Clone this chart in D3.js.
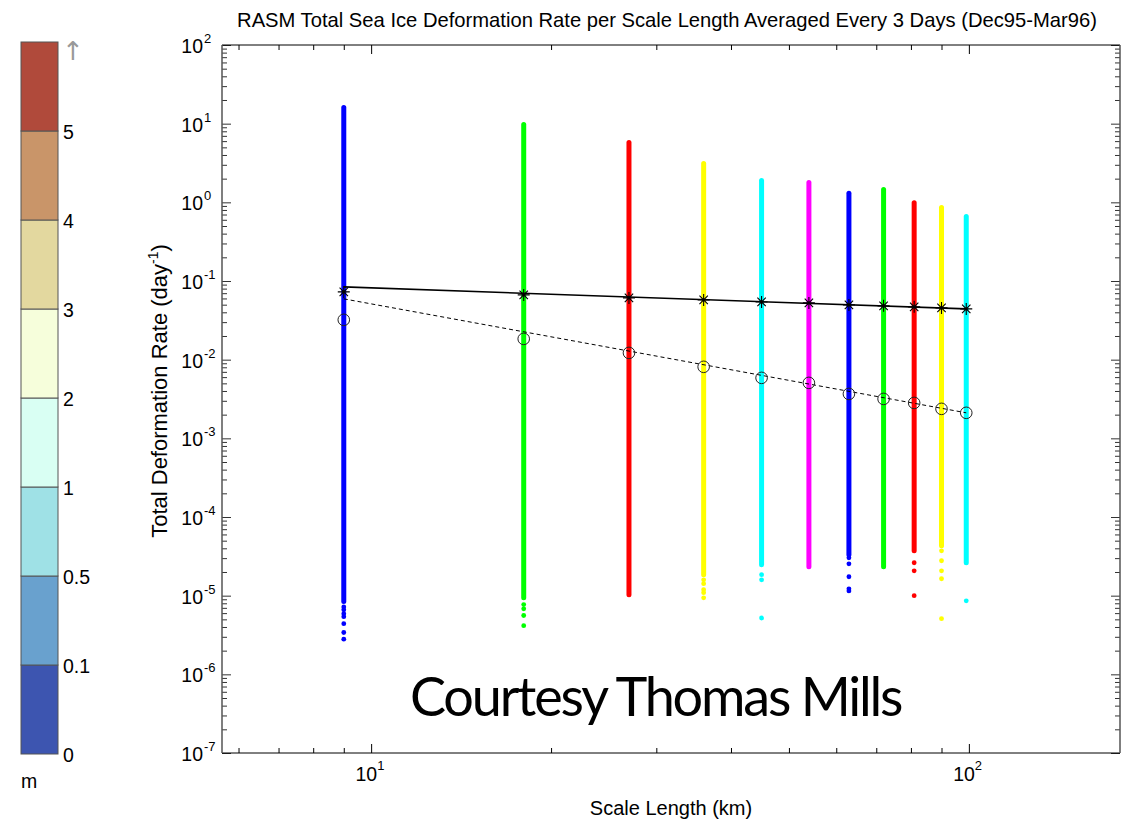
<!DOCTYPE html>
<html lang="en">
<head>
<meta charset="UTF-8">
<title>RASM Total Sea Ice Deformation Rate</title>
<script src="https://d3js.org/d3.v7.min.js"></script>
<style>
    body { margin: 0; background: #fff; }
    svg { font-family: "Liberation Sans", Arial, sans-serif; }
</style>
</head>
<body>
<svg width="1135" height="822"></svg>
<script>
// scale lengths (km), one scatter column each
var scaleKm = [9, 18, 27, 36, 45, 54, 63, 72, 81, 90, 99];
var colColors = ["#0000ff", "#00ff00", "#ff0000", "#ffff00", "#00ffff", "#ff00ff",
                 "#0000ff", "#00ff00", "#ff0000", "#ffff00", "#00ffff"];
// highest point and lowest point of the dense part of each column (day^-1)
var colMax = [16.1, 9.77, 5.77, 3.12, 1.90, 1.79, 1.30, 1.46, 0.99, 0.86, 0.66];
var colDenseMin = [8.4e-6, 9.4e-6, 1.03e-5, 1.85e-5, 2.47e-5, 2.33e-5, 3.31e-5, 2.33e-5, 3.72e-5, 4.3e-5, 2.62e-5];
// isolated low points under each column
var colLowDots = [
    [7.2e-6, 6.6e-6, 5.9e-6, 5.4e-6, 4.4e-6, 3.4e-6, 2.8e-6],
    [7.7e-6, 6.8e-6, 5.6e-6, 4.15e-6],
    [],
    [1.59e-5, 1.42e-5, 1.19e-5, 1.09e-5, 9.4e-6],
    [1.85e-5, 1.59e-5, 5.2e-6],
    [],
    [3.03e-5, 2.54e-5, 1.74e-5, 1.22e-5, 1.15e-5],
    [],
    [2.62e-5, 2.07e-5, 1.0e-5],
    [3.72e-5, 2.78e-5, 2.07e-5, 1.64e-5, 5.1e-6],
    [8.6e-6]
];
// asterisk and circle markers
var starRate = [0.0727, 0.0666, 0.0610, 0.0575, 0.0542, 0.0527, 0.0497, 0.0483, 0.0469, 0.0455, 0.0442];
var circleRate = [0.0321, 0.01837, 0.01219, 0.00811, 0.00587, 0.00507, 0.00367, 0.00317, 0.00282, 0.00237, 0.00211];
// fitted power-law lines, end points
var fitSolid = [[9, 0.0841], [99, 0.0442]];
var fitDashed = [[9, 0.0593], [99, 0.00211]];

var yTickExp = [2, 1, 0, -1, -2, -3, -4, -5, -6, -7];
var xTickExp = [1, 2];

// colour bar (ice thickness, m), bottom to top
var cbLabels = ["0", "0.1", "0.5", "1", "2", "3", "4", "5"];
var cbColors = ["#3d55b0", "#69a1ce", "#9fe1e6", "#d9fff3", "#f6fedb", "#e3d89f", "#c99569", "#b04a3b"];

var svg = d3.select("svg");
var pLeft = 222, pRight = 1120, pTop = 45, pBottom = 753;

var x = d3.scaleLog().domain([5.63, 179]).range([pLeft, pRight]);
var y = d3.scaleLog().domain([1e-7, 100]).range([pBottom, pTop]);

svg.append("rect").attr("width", 1135).attr("height", 822).attr("fill", "#fff");

// ---- ticks
var xMinor = [6, 7, 8, 9, 20, 30, 40, 50, 60, 70, 80, 90], yMinor = [];
for (var e = -7; e < 2; e++) {
    for (var k = 2; k <= 9; k++) yMinor.push(k * Math.pow(10, e));
}
var xMajor = xTickExp.map(function(e) { return Math.pow(10, e); });
var yMajor = yTickExp.map(function(e) { return Math.pow(10, e); });

function addAxis(axis, tr, color) {
    var g = svg.append("g").attr("transform", tr).call(axis);
    g.select(".domain").remove();
    g.selectAll("line").attr("stroke", color);
    g.selectAll("text").remove();
    return g;
}
addAxis(d3.axisBottom(x).tickValues(xMajor).tickSize(-9), "translate(0," + pBottom + ")", "#000");
addAxis(d3.axisBottom(x).tickValues(xMinor).tickSize(-5), "translate(0," + pBottom + ")", "#000");
addAxis(d3.axisTop(x).tickValues(xMajor).tickSize(-9), "translate(0," + pTop + ")", "#000");
addAxis(d3.axisTop(x).tickValues(xMinor).tickSize(-5), "translate(0," + pTop + ")", "#000");
addAxis(d3.axisLeft(y).tickValues(yMajor).tickSize(-9), "translate(" + pLeft + ",0)", "#333");
addAxis(d3.axisLeft(y).tickValues(yMinor).tickSize(-5), "translate(" + pLeft + ",0)", "#333");
addAxis(d3.axisRight(y).tickValues(yMajor).tickSize(-9), "translate(" + pRight + ",0)", "#333");
addAxis(d3.axisRight(y).tickValues(yMinor).tickSize(-5), "translate(" + pRight + ",0)", "#333");

// box
svg.append("line").attr("x1", pLeft).attr("x2", pRight).attr("y1", pTop).attr("y2", pTop).attr("stroke", "#000");
svg.append("line").attr("x1", pLeft).attr("x2", pRight).attr("y1", pBottom).attr("y2", pBottom).attr("stroke", "#000");
svg.append("line").attr("x1", pLeft).attr("x2", pLeft).attr("y1", pTop).attr("y2", pBottom).attr("stroke", "#555").attr("stroke-width", 1.5);
svg.append("line").attr("x1", pRight).attr("x2", pRight).attr("y1", pTop).attr("y2", pBottom).attr("stroke", "#555").attr("stroke-width", 1.5);

// tick labels 10^n
yTickExp.forEach(function(e) {
    var yy = y(Math.pow(10, e));
    svg.append("text").attr("x", 203).attr("y", yy + 8).attr("text-anchor", "end")
        .attr("font-size", 19.5).text("10");
    svg.append("text").attr("x", 204).attr("y", yy - 2).attr("font-size", 13).text(e);
});
xTickExp.forEach(function(e) {
    var xx = x(Math.pow(10, e));
    svg.append("text").attr("x", xx + 6).attr("y", 781).attr("text-anchor", "end")
        .attr("font-size", 19.5).text("10");
    svg.append("text").attr("x", xx + 6).attr("y", 770).attr("font-size", 13).text(e);
});

// ---- scatter columns
var cols = svg.append("g");
scaleKm.forEach(function(s, i) {
    cols.append("line")
        .attr("x1", x(s)).attr("x2", x(s))
        .attr("y1", y(colMax[i])).attr("y2", y(colDenseMin[i]))
        .attr("stroke", colColors[i]).attr("stroke-width", 5).attr("stroke-linecap", "round");
    cols.selectAll(null).data(colLowDots[i]).enter().append("circle")
        .attr("cx", x(s)).attr("cy", function(d) { return y(d); })
        .attr("r", 2.4).attr("fill", colColors[i]);
});

// ---- fitted lines
var line = d3.line().x(function(d) { return x(d[0]); }).y(function(d) { return y(d[1]); });
svg.append("path").attr("d", line(fitSolid)).attr("fill", "none")
    .attr("stroke", "#000").attr("stroke-width", 1.6);
svg.append("path").attr("d", line(fitDashed)).attr("fill", "none")
    .attr("stroke", "#000").attr("stroke-width", 1).attr("stroke-dasharray", "4,3");

// asterisks
var star = svg.append("g").attr("stroke", "#000").attr("stroke-width", 1.1);
scaleKm.forEach(function(s, i) {
    var cx = x(s), cy = y(starRate[i]), r = 6;
    star.append("path").attr("d",
        "M" + (cx - r) + "," + cy + "H" + (cx + r) +
        "M" + cx + "," + (cy - r) + "V" + (cy + r) +
        "M" + (cx - r * 0.7) + "," + (cy - r * 0.7) + "L" + (cx + r * 0.7) + "," + (cy + r * 0.7) +
        "M" + (cx - r * 0.7) + "," + (cy + r * 0.7) + "L" + (cx + r * 0.7) + "," + (cy - r * 0.7));
});

// circles
svg.append("g").selectAll("circle").data(circleRate).enter().append("circle")
    .attr("cx", function(d, i) { return x(scaleKm[i]); })
    .attr("cy", function(d) { return y(d); })
    .attr("r", 5.8).attr("fill", "none").attr("stroke", "#222").attr("stroke-width", 1);

// ---- titles
svg.append("text").attr("x", 667).attr("y", 27).attr("text-anchor", "middle")
    .attr("font-size", 20.2)
    .text("RASM Total Sea Ice Deformation Rate per Scale Length Averaged Every 3 Days (Dec95-Mar96)");
svg.append("text").attr("x", 671).attr("y", 815).attr("text-anchor", "middle")
    .attr("font-size", 20).text("Scale Length (km)");
var yl = svg.append("text").attr("transform", "translate(167,391) rotate(-90)")
    .attr("text-anchor", "middle").attr("font-size", 22);
yl.append("tspan").text("Total Deformation Rate (day");
yl.append("tspan").attr("font-size", 14).attr("dy", -9).text("-1");
yl.append("tspan").attr("dy", 9).text(")");

svg.append("text").attr("x", 410).attr("y", 716)
    .attr("font-family", "Lato, 'Open Sans', sans-serif").attr("font-size", 54)
    .attr("letter-spacing", -2.2)
    .text("Courtesy Thomas Mills");

// ---- colour bar
var cb = d3.scaleLinear().domain([0, 8]).range([754, 42]);
var cbg = svg.append("g");
cbg.selectAll("rect").data(cbColors).enter().append("rect")
    .attr("x", 21).attr("width", 37)
    .attr("y", function(d, i) { return cb(i + 1); })
    .attr("height", function(d, i) { return cb(i) - cb(i + 1); })
    .attr("fill", function(d) { return d; })
    .attr("stroke", "#555").attr("stroke-width", 1);
cbg.selectAll("text").data(cbLabels).enter().append("text")
    .attr("x", 63).attr("y", function(d, i) { return cb(i) + 8; })
    .attr("font-size", 19.5).text(function(d) { return d; });
cbg.append("text").attr("x", 62).attr("y", 60).attr("font-size", 26)
    .attr("font-family", "'DejaVu Sans', sans-serif")
    .attr("fill", "#999").text("\u2191");
cbg.append("text").attr("x", 21).attr("y", 788).attr("font-size", 19.5).text("m");
</script>
</body>
</html>
